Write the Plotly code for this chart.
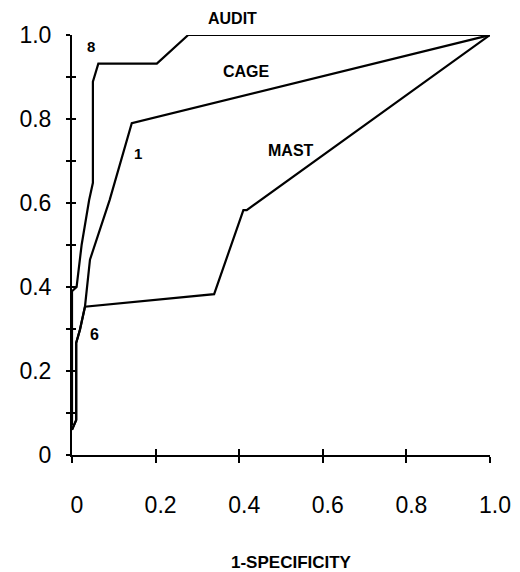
import plotly.graph_objects as go

# Data
audit_x = [0.0, 0.0, 0.011, 0.023, 0.041, 0.05, 0.05, 0.063, 0.203, 0.278, 1.0]
audit_y = [0.07, 0.39, 0.40, 0.50, 0.607, 0.648, 0.889, 0.932, 0.932, 1.0, 1.0]

cage_x = [0.0, 0.01, 0.01, 0.019, 0.031, 0.043, 0.09, 0.143, 1.0]
cage_y = [0.06, 0.083, 0.267, 0.298, 0.353, 0.465, 0.607, 0.79, 1.0]

mast_x = [0.0, 0.01, 0.01, 0.019, 0.031, 0.34, 0.41, 0.418, 1.0]
mast_y = [0.06, 0.083, 0.267, 0.298, 0.353, 0.383, 0.583, 0.583, 1.0]

x_ticks = [0, 0.2, 0.4, 0.6, 0.8, 1.0]
x_ticktext = ["0", "0.2", "0.4", "0.6", "0.8", "1.0"]
y_ticks = [0, 0.2, 0.4, 0.6, 0.8, 1.0]
y_ticktext = ["0", "0.2", "0.4", "0.6", "0.8", "1.0"]
y_minor = [0.0, 0.1, 0.2, 0.3, 0.4, 0.5, 0.6, 0.7, 0.8, 0.9, 1.0]

curve_labels = ["AUDIT", "CAGE", "MAST", "8", "1", "6"]
label_x = [0.385, 0.417, 0.523, 0.045, 0.157, 0.053]
label_y = [1.040, 0.913, 0.726, 0.972, 0.717, 0.288]
label_size = [16, 16, 16, 15, 15, 16]

FONT = "Liberation Sans, Arial, sans-serif"

fig = go.Figure()
for xs, ys, name in [(audit_x, audit_y, "AUDIT"), (cage_x, cage_y, "CAGE"), (mast_x, mast_y, "MAST")]:
    fig.add_trace(go.Scatter(x=xs, y=ys, mode="lines", name=name,
                             line=dict(color="black", width=2.2), showlegend=False))

# helper trace for the overlaid axes (inner halves of crossing ticks)
fig.add_trace(go.Scatter(x=[None], y=[None], xaxis="x2", yaxis="y2",
                         mode="lines", showlegend=False, hoverinfo="skip"))

# axis ranges are [0, 1], so "domain" references coincide with data values
for t, lx, ly, s in zip(curve_labels, label_x, label_y, label_size):
    fig.add_annotation(x=lx, y=ly, xref="x domain", yref="y domain",
                       xanchor="center", yanchor="middle",
                       text="<b>%s</b>" % t, showarrow=False,
                       font=dict(family=FONT, size=s, color="black"))

fig.add_annotation(x=0.524, y=0, xref="paper", yref="paper", yshift=-107,
                   xanchor="center", yanchor="middle",
                   text="<b>1-SPECIFICITY</b>", showarrow=False,
                   font=dict(family=FONT, size=17, color="black"))

# the page body adds an 8px margin, so the figure is 8px smaller on each axis
fig.update_layout(
    template="none",
    width=512, height=564,
    margin=dict(l=64, r=30, t=27, b=117),
    paper_bgcolor="white", plot_bgcolor="white",
    font=dict(family=FONT, color="black"),
    xaxis=dict(range=[0, 1], showline=True, linecolor="black", linewidth=2,
               showgrid=False, zeroline=False, automargin=False,
               tickmode="array", tickvals=x_ticks, ticktext=x_ticktext,
               ticks="outside", ticklen=6, tickwidth=2, tickcolor="black",
               tickfont=dict(family=FONT, size=23, color="black"),
               ticklabelstandoff=22, ticklabelshift=5),
    yaxis=dict(range=[0, 1], showline=True, linecolor="black", linewidth=2,
               showgrid=False, zeroline=False, automargin=False,
               tickmode="array", tickvals=y_ticks, ticktext=y_ticktext,
               ticks="outside", ticklen=4, tickwidth=2, tickcolor="black",
               tickfont=dict(family=FONT, size=23, color="black"),
               ticklabelstandoff=10,
               minor=dict(tickmode="array", tickvals=y_minor, ticks="outside",
                          ticklen=4, tickwidth=2, tickcolor="black", showgrid=False)),
    xaxis2=dict(range=[0, 1], overlaying="x", anchor="y", side="bottom",
                showline=False, showgrid=False, zeroline=False, automargin=False,
                tickmode="array", tickvals=x_ticks, ticks="inside",
                ticklen=6, tickwidth=2, tickcolor="black", showticklabels=False),
    yaxis2=dict(range=[0, 1], overlaying="y", anchor="x", side="left",
                showline=False, showgrid=False, zeroline=False, automargin=False,
                tickmode="array", tickvals=y_minor, ticks="inside",
                ticklen=4, tickwidth=2, tickcolor="black", showticklabels=False),
)

fig.write_html("out.html")
